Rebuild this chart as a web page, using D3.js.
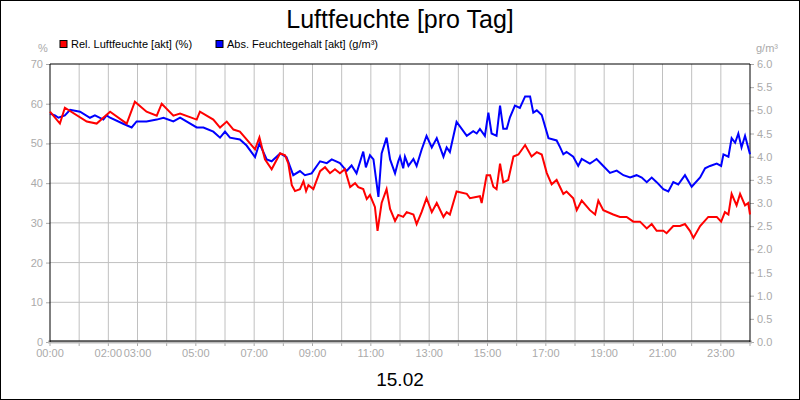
<!DOCTYPE html>
<html><head><meta charset="utf-8">
<script src="https://cdn.jsdelivr.net/npm/d3@7"></script>
<style>body{margin:0;background:#fff}svg{display:block}</style>
</head><body>
<svg id="c" width="800" height="400"></svg>
<script>
const relTime=[0,0.34,0.51,1.26,1.6,2.06,2.63,2.91,3.31,3.66,3.83,4.23,4.46,5.03,5.14,5.6,5.83,6.06,6.29,6.51,6.74,7.03,7.18,7.37,7.6,7.89,8.06,8.17,8.29,8.4,8.57,8.69,8.78,8.86,9.03,9.26,9.43,9.6,9.77,9.94,10.11,10.29,10.46,10.57,10.74,10.86,10.97,11.14,11.23,11.37,11.54,11.66,11.83,11.94,
12.11,12.23,12.46,12.57,12.74,12.91,13.09,13.26,13.49,13.6,13.71,13.94,14.29,14.4,14.74,14.8,14.97,15.09,15.2,15.31,15.43,15.54,15.71,15.89,16.06,16.29,16.51,16.69,16.86,17.03,17.2,17.37,17.6,17.71,17.94,18.06,18.23,18.51,18.69,18.8,18.97,19.31,19.54,19.77,20.0,20.23,20.46,20.63,20.8,21.03,21.14,21.37,21.6,21.77,21.94,22.06,22.29,22.57,22.86,23.01,23.14,23.26,23.37,23.54,23.66,23.83,23.94,24.0];
const relValues=[58,55,59,55.5,55,58,55,60.5,58,57,60,57,57.5,56,58,56,54,55.5,53.5,53,51,48.5,51.5,46,43.5,47.5,47,45,39.5,38,38.5,40.5,38,39.5,38.5,43,44,42.5,43.5,42.5,43.5,39,40,39,38.5,36,37,34,28,35,38.5,33.5,30.5,32,
31.5,32.7,32.1,29.7,32.7,36.2,32.7,35,31.5,32.7,32.1,37.9,37.3,36.2,36.7,35,42,42,39.1,38.5,44.9,40.2,40.8,46.7,47.2,49.6,46.7,47.8,47.2,42.6,39.7,40.8,37.3,37.9,36.2,33.2,35.6,33.2,32.1,35.6,33.2,32.1,31.5,31.5,30.3,30.3,28.6,29.7,28,28,27.4,29.2,29.2,29.7,28,26.2,29.2,31.5,31.5,30.3,32.7,32.1,37.3,34.4,37.3,34.4,35,32.1];
const absTime=[0,0.17,0.29,0.51,0.69,1.03,1.37,1.54,1.83,1.94,2.06,2.51,2.8,2.97,3.31,3.66,3.89,4.23,4.46,5.03,5.26,5.6,5.83,6.0,6.17,6.51,6.74,7.03,7.18,7.43,7.6,7.89,8.11,8.34,8.57,8.74,8.97,9.26,9.49,9.66,9.94,10.17,10.34,10.51,10.74,10.83,10.97,11.09,11.26,11.37,11.54,11.66,11.83,11.94,
12.0,12.11,12.17,12.29,12.46,12.57,12.74,12.91,13.09,13.26,13.49,13.6,13.71,13.94,14.06,14.29,14.51,14.63,14.74,14.91,15.03,15.14,15.31,15.43,15.54,15.66,15.77,15.94,16.11,16.29,16.46,16.57,16.69,16.86,17.09,17.37,17.49,17.6,17.71,17.94,18.11,18.23,18.51,18.63,18.74,18.97,19.2,19.43,19.66,19.89,20.11,20.29,20.46,20.63,20.8,21.03,21.2,21.37,21.54,21.77,22.0,22.29,22.46,22.63,22.86,23.01,23.09,23.26,23.37,23.49,23.6,23.71,23.83,24.0];
const absValues=[4.93,4.89,4.84,4.89,5.01,4.97,4.84,4.89,4.8,4.89,4.84,4.71,4.63,4.76,4.76,4.8,4.84,4.76,4.84,4.63,4.63,4.54,4.41,4.54,4.41,4.37,4.24,3.99,4.29,3.94,3.9,4.07,3.99,3.6,3.69,3.6,3.64,3.9,3.86,3.94,3.86,3.69,3.81,3.64,4.11,3.77,4.03,3.94,3.13,4.07,4.41,3.94,3.64,3.9,
4.0,3.75,4.0,3.8,3.95,3.8,4.15,4.45,4.2,4.4,4.0,4.2,4.1,4.75,4.65,4.45,4.55,4.5,4.6,4.45,4.95,4.5,4.45,5.1,4.6,4.6,4.85,5.1,5.05,5.3,5.3,4.95,5.0,4.9,4.4,4.35,4.2,4.05,4.1,4.0,3.8,3.95,3.85,3.9,3.95,3.8,3.65,3.7,3.6,3.55,3.6,3.55,3.45,3.55,3.45,3.3,3.25,3.45,3.4,3.6,3.35,3.55,3.75,3.8,3.85,3.8,4.05,4.0,4.4,4.3,4.5,4.2,4.45,4.05];
const xLabels=["00:00","02:00","03:00","05:00","07:00","09:00","11:00","13:00","15:00","17:00","19:00","21:00","23:00"];
const xLabelHours=[0,2,3,5,7,9,11,13,15,17,19,21,23];

const svg=d3.select("#c");
const L=50,R=750,T=64,B=342;
const x=d3.scaleLinear().domain([0,24]).range([L,R]);
const yL=d3.scaleLinear().domain([0,70]).range([B,T]);
const yR=d3.scaleLinear().domain([0,6]).range([B,T]);
const grey="#aaaaaa",font="Arial, Liberation Sans, sans-serif";
svg.append("rect").attr("x",0.5).attr("y",0.5).attr("width",799).attr("height",399).attr("fill","#fff").attr("stroke","#000");
svg.append("text").attr("x",400).attr("y",28).attr("text-anchor","middle").attr("font-family",font).attr("font-size",25).text("Luftfeuchte [pro Tag]");
// grid
const g=svg.append("g").attr("stroke","#c0c0c0").attr("stroke-width",1);
d3.range(1,24).forEach(h=>g.append("line").attr("x1",x(h)).attr("x2",x(h)).attr("y1",T).attr("y2",B));
d3.range(10,70,10).forEach(v=>g.append("line").attr("x1",L).attr("x2",R).attr("y1",yL(v)).attr("y2",yL(v)));
// axes
svg.append("g").attr("transform",`translate(${L},0)`).call(d3.axisLeft(yL).tickValues(d3.range(0,71,10)).tickSize(4).tickFormat(d3.format("d")))
 .call(a=>{a.select(".domain").remove();a.selectAll("line").attr("stroke",grey);a.selectAll("text").attr("fill",grey).attr("font-family",font).attr("font-size",11);});
svg.append("g").attr("transform",`translate(${R},0)`).call(d3.axisRight(yR).tickValues(d3.range(0,6.01,0.5)).tickSize(4).tickFormat(d3.format(".1f")))
 .call(a=>{a.select(".domain").remove();a.selectAll("line").attr("stroke",grey);a.selectAll("text").attr("fill",grey).attr("font-family",font).attr("font-size",11);});
svg.append("g").attr("transform",`translate(0,${B})`).call(d3.axisBottom(x).tickValues(d3.range(0,25)).tickSize(4).tickFormat(d=>{const i=xLabelHours.indexOf(d);return i<0?"":xLabels[i];}))
 .call(a=>{a.select(".domain").remove();a.selectAll("line").attr("stroke",grey);a.selectAll("text").attr("fill",grey).attr("font-family",font).attr("font-size",11).attr("transform","scale(0.85,1)").attr("x",0);})
 .call(a=>a.selectAll(".tick").each(function(d){d3.select(this).attr("transform",`translate(${x(d)},0)`).select("text").attr("transform",null).attr("textLength",null);}));
svg.append("line").attr("x1",L-2).attr("x2",R+2).attr("y1",B).attr("y2",B).attr("stroke","#bbb").attr("stroke-width",3);
svg.append("path").attr("d",`M${L},${B}V${T}H${R}V${B}`).attr("fill","none").attr("stroke","#000");
svg.append("line").attr("x1",L).attr("x2",R).attr("y1",B-1).attr("y2",B-1).attr("stroke","#000");
// lines
const relLine=d3.line().x((d,i)=>x(relTime[i])).y(d=>yL(d));
const absLine=d3.line().x((d,i)=>x(absTime[i])).y(d=>yR(d));
svg.append("path").attr("d",absLine(absValues)).attr("fill","none").attr("stroke","#0000ff").attr("stroke-width",2);
svg.append("path").attr("d",relLine(relValues)).attr("fill","none").attr("stroke","#ff0000").attr("stroke-width",2);
// legend & units
svg.append("text").attr("x",43).attr("y",52).attr("text-anchor","middle").attr("fill",grey).attr("font-family",font).attr("font-size",11).text("%");
svg.append("text").attr("x",767).attr("y",52).attr("text-anchor","middle").attr("fill",grey).attr("font-family",font).attr("font-size",11).text("g/m³");
[[60,"#ff0000","Rel. Luftfeuchte [akt] (%)"],[216,"#0000ff","Abs. Feuchtegehalt [akt] (g/m³)"]].forEach(([lx,c,t])=>{
 svg.append("rect").attr("x",lx).attr("y",40.5).attr("width",7).attr("height",7).attr("fill",c).attr("stroke","#000");
 svg.append("text").attr("x",lx+11).attr("y",48).attr("font-family",font).attr("font-size",11).text(t);
});
svg.append("text").attr("x",400).attr("y",386).attr("text-anchor","middle").attr("font-family",font).attr("font-size",19).text("15.02");
</script>
</body></html>
